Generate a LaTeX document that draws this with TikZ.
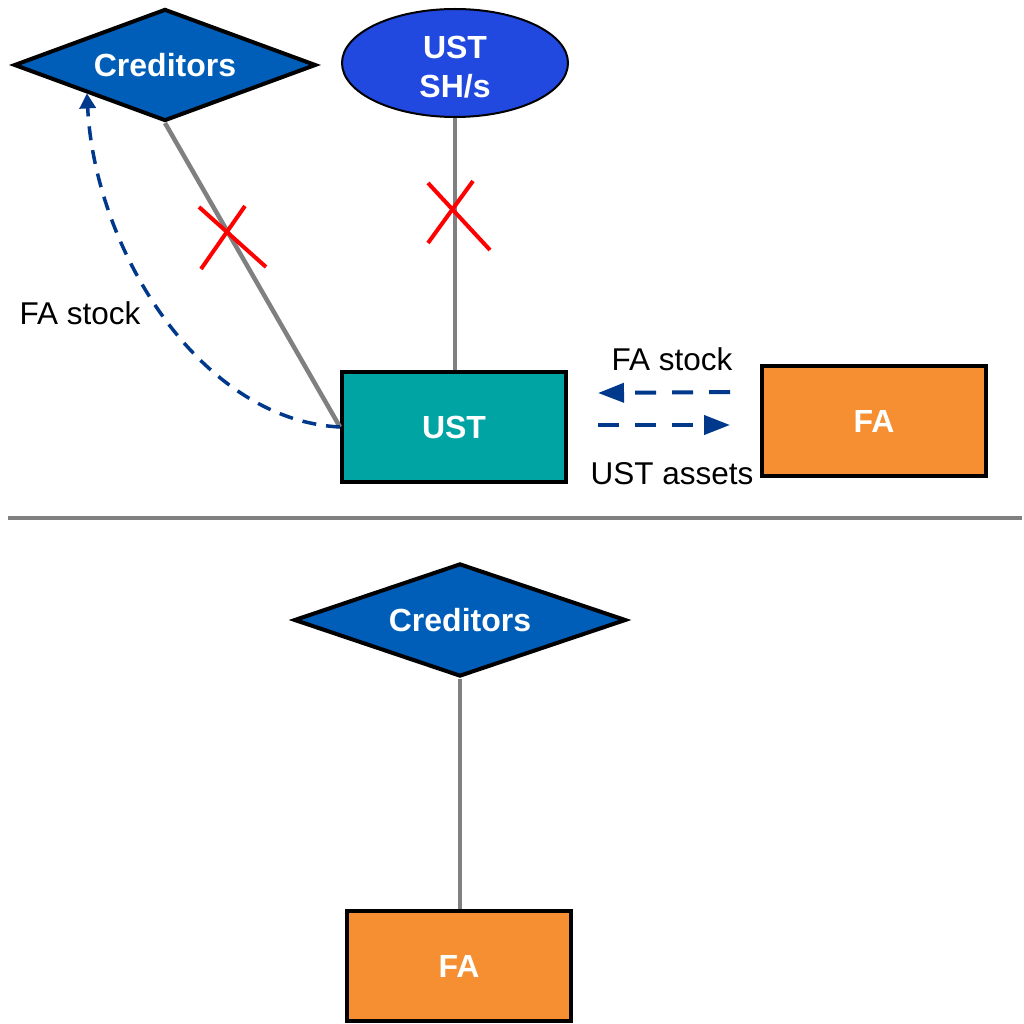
\documentclass[tikz,border=0pt]{standalone}
\usepackage{fontspec}
\setmainfont{Liberation Sans}
\usetikzlibrary{shapes.geometric,arrows.meta,calc}
\definecolor{credblue}{RGB}{0,94,184}
\definecolor{shblue}{RGB}{33,73,224}
\definecolor{ustteal}{RGB}{0,165,163}
\definecolor{faorange}{RGB}{245,143,49}
\definecolor{flowblue}{RGB}{0,56,140}
\definecolor{linkgray}{RGB}{128,128,128}
\tikzset{
  boldlabel/.style={text=white,font=\fontsize{32}{39}\selectfont\bfseries,align=center},
  creddiamond/.style={diamond,draw=black,line width=4pt,fill=credblue,inner sep=0pt,
    aspect=2.7,minimum width=302pt,minimum height=112pt,boldlabel},
  shellipse/.style={ellipse,draw=black,line width=2pt,fill=shblue,inner sep=0pt,
    minimum width=226pt,minimum height=108pt,boldlabel},
  entitybox/.style={rectangle,draw=black,line width=4pt,inner sep=0pt,
    minimum width=224pt,minimum height=110pt,boldlabel},
  plainlabel/.style={text=black,font=\fontsize{31.5}{38}\selectfont},
  link/.style={draw=linkgray,line width=4.5pt},
  cutmark/.style={draw=red,line width=4pt},
  flow/.style={draw=flowblue,line width=4pt,dash pattern=on 21pt off 16pt,
    -{Triangle[length=26pt,width=19pt]}},
  curvedflow/.style={draw=flowblue,line width=3.5pt,dash pattern=on 14pt off 10pt,
    -{Triangle[length=15pt,width=16pt]}},
  divider/.style={draw=linkgray,line width=4pt}
}
\begin{document}
\begin{tikzpicture}[x=1pt,y=-1pt]
\useasboundingbox (0,0) rectangle (1023,1024);

% upper structure
\node[creddiamond] (cred) at (165,65) {Creditors};
\node[shellipse] (sh) at (455,63) {\rule{0pt}{30pt}UST\\SH/s};
\node[entitybox,fill=ustteal] (ust) at (454,427) {UST};
\node[entitybox,fill=faorange] (fa) at (874,421) {FA};

\draw[link] (cred.south) -- (ust.west);
\draw[link] (sh.south) -- (ust.north -| sh.south);

% severed links
\coordinate (cutA) at (231,237);
\coordinate (cutB) at (458,215);
\draw[cutmark] ($(cutA)+(-32,-30)$) -- ($(cutA)+(35,30)$);
\draw[cutmark] ($(cutA)+(14,-31)$) -- ($(cutA)+(-30,32)$);
\draw[cutmark] ($(cutB)+(-30,-32)$) -- ($(cutB)+(32,35)$);
\draw[cutmark] ($(cutB)+(15,-34)$) -- ($(cutB)+(-30,28)$);

% share flow back to creditors
\draw[curvedflow] (ust.west) .. controls (200,420) and (95,250) .. (cred.200);
\node[plainlabel] (lblstock1) at (80,313) {FA stock};

% exchange between UST and FA
\coordinate (stockfrom) at (730,392);
\coordinate (stockto) at (598,393);
\coordinate (assetfrom) at (598,425);
\coordinate (assetto) at (730,425);
\draw[flow] (stockfrom) -- (stockto);
\draw[flow] (assetfrom) -- (assetto);
\node[plainlabel] (lblstock2) at (672,359) {FA stock};
\node[plainlabel] (lblassets) at (672,474) {UST assets};

% divider
\coordinate (divl) at (8,518);
\coordinate (divr) at (1022,518);
\draw[divider] (divl) -- (divr);

% lower structure
\node[creddiamond,aspect=2.9,minimum width=332pt,minimum height=113pt] (cred2) at (460,620) {Creditors};
\node[entitybox,fill=faorange] (fa2) at (459,966) {FA};
\draw[link] (cred2.south) -- (fa2.north -| cred2.south);
\end{tikzpicture}
\end{document}
